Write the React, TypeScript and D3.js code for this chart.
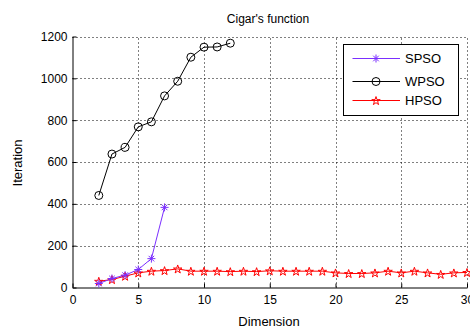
import React, { useEffect, useRef } from 'react';
import * as d3 from 'd3';

const xTicks = [0, 5, 10, 15, 20, 25, 30];
const yTicks = [0, 200, 400, 600, 800, 1000, 1200];

const spsoDims = [2, 3, 4, 5, 6, 7];
const spsoIters = [19, 43, 59, 86, 138, 383];

const wpsoDims = [2, 3, 4, 5, 6, 7, 8, 9, 10, 11, 12];
const wpsoIters = [440, 638, 670, 768, 792, 916, 986, 1101, 1149, 1150, 1168];

const hpsoDims = [2, 3, 4, 5, 6, 7, 8, 9, 10, 11, 12, 13, 14, 15, 16, 17, 18, 19, 20, 21, 22, 23, 24, 25, 26, 27, 28, 29, 30];
const hpsoIters = [30, 38, 54, 70, 78, 81, 89, 78, 78, 78, 76, 78, 76, 80, 78, 78, 78, 78, 70, 67, 67, 70, 78, 70, 78, 70, 63, 70, 72];

const seriesNames = ['SPSO', 'WPSO', 'HPSO'];
const seriesColors = ['#7b2fff', '#000000', '#ff0000'];

export default function App() {
    const ref = useRef<SVGSVGElement>(null);

    useEffect(() => {
        const width = 470;
        const height = 331;
        const margin = { top: 36.5, right: 3, bottom: 43.5, left: 72.5 };
        const font = 'Liberation Sans, Arial, sans-serif';

        const svg = d3.select(ref.current).attr('width', width).attr('height', height);
        svg.selectAll('*').remove();
        svg.append('rect').attr('width', width).attr('height', height).attr('fill', '#fff');

        const xScale = d3.scaleLinear().domain([0, 30]).range([margin.left, width - margin.right]);
        const yScale = d3.scaleLinear().domain([0, 1200]).range([height - margin.bottom, margin.top]);

        // grid
        const grid = svg.append('g').attr('stroke', '#000').attr('stroke-width', 1).attr('stroke-dasharray', '1,3');
        xTicks.slice(1).forEach((t) => {
            grid.append('line')
                .attr('x1', Math.round(xScale(t)) + 0.5).attr('x2', Math.round(xScale(t)) + 0.5)
                .attr('y1', yScale(0)).attr('y2', yScale(1200));
        });
        yTicks.slice(1).forEach((t) => {
            grid.append('line')
                .attr('x1', xScale(0)).attr('x2', xScale(30))
                .attr('y1', Math.round(yScale(t)) + 0.5).attr('y2', Math.round(yScale(t)) + 0.5);
        });

        // axes
        const xAxis = d3.axisBottom(xScale).tickValues(xTicks).tickFormat(d3.format('d'))
            .tickSizeInner(-4).tickSizeOuter(0).tickPadding(6);
        const yAxis = d3.axisLeft(yScale).tickValues(yTicks).tickFormat(d3.format('d'))
            .tickSizeInner(-4).tickSizeOuter(0).tickPadding(5);

        const gx = svg.append('g').attr('transform', `translate(0,${yScale(0)})`).call(xAxis);
        const gy = svg.append('g').attr('transform', `translate(${xScale(0)},0)`).call(yAxis);
        [gx, gy].forEach((g) => {
            g.selectAll('text').attr('font-family', font).attr('font-size', 12).attr('fill', '#000');
            g.selectAll('path,line').attr('stroke', '#000');
        });
        gx.selectAll('text').attr('dy', '0.9em');

        // series
        const lineGen = d3.line<[number, number]>().x((d) => xScale(d[0])).y((d) => yScale(d[1]));
        const star = d3.symbol().type(d3.symbolStar).size(22);

        const drawMarker = (g: any, kind: number, x: number, y: number, color: string) => {
            if (kind === 0) {
                const r = 4;
                const path = `M${x - r},${y}L${x + r},${y}M${x},${y - r}L${x},${y + r}` +
                    `M${x - r * 0.7},${y - r * 0.7}L${x + r * 0.7},${y + r * 0.7}M${x - r * 0.7},${y + r * 0.7}L${x + r * 0.7},${y - r * 0.7}`;
                g.append('path').attr('d', path).attr('stroke', color).attr('stroke-width', 1).attr('fill', 'none');
            } else if (kind === 1) {
                g.append('circle').attr('cx', x).attr('cy', y).attr('r', 4)
                    .attr('fill', 'none').attr('stroke', color).attr('stroke-width', 1);
            } else {
                g.append('path').attr('d', star()).attr('transform', `translate(${x},${y + 0.5})`)
                    .attr('fill', 'none').attr('stroke', color).attr('stroke-width', 1);
            }
        };

        const allSeries: [number[], number[]][] = [
            [spsoDims, spsoIters],
            [wpsoDims, wpsoIters],
            [hpsoDims, hpsoIters],
        ];
        const plot = svg.append('g');
        [2, 0, 1].forEach((i) => {
            const [xs, ys] = allSeries[i];
            const pts: [number, number][] = xs.map((d, j) => [d, ys[j]]);
            const g = plot.append('g');
            g.append('path').attr('d', lineGen(pts)).attr('fill', 'none')
                .attr('stroke', seriesColors[i]).attr('stroke-width', 1);
            pts.forEach((p) => drawMarker(g, i, xScale(p[0]), yScale(p[1]), seriesColors[i]));
        });

        // legend
        const lg = svg.append('g');
        lg.append('rect').attr('x', 343.5).attr('y', 44.5).attr('width', 115).attr('height', 71)
            .attr('fill', '#fff').attr('stroke', '#000').attr('stroke-width', 1);
        const legendY = [58.5, 81.5, 100.5];
        seriesNames.forEach((name, i) => {
            const y = legendY[i];
            lg.append('line').attr('x1', 352.5).attr('x2', 400).attr('y1', y).attr('y2', y)
                .attr('stroke', seriesColors[i]).attr('stroke-width', 1);
            drawMarker(lg, i, 376, y, seriesColors[i]);
            lg.append('text').attr('x', 405).attr('y', y).attr('dy', '0.36em')
                .attr('font-family', font).attr('font-size', 13).attr('fill', '#000').text(name);
        });

        // titles
        svg.append('text').attr('x', 268).attr('y', 23).attr('text-anchor', 'middle')
            .attr('font-family', font).attr('font-size', 12).attr('fill', '#000').text("Cigar's function");
        svg.append('text').attr('x', 269).attr('y', 326).attr('text-anchor', 'middle')
            .attr('font-family', font).attr('font-size', 13).attr('fill', '#000').text('Dimension');
        svg.append('text').attr('transform', 'translate(22,163) rotate(-90)').attr('text-anchor', 'middle')
            .attr('font-family', font).attr('font-size', 13).attr('fill', '#000').text('Iteration');
    }, []);

    return <svg ref={ref} style={{ position: 'absolute', left: 0, top: 0 }} />;
}
